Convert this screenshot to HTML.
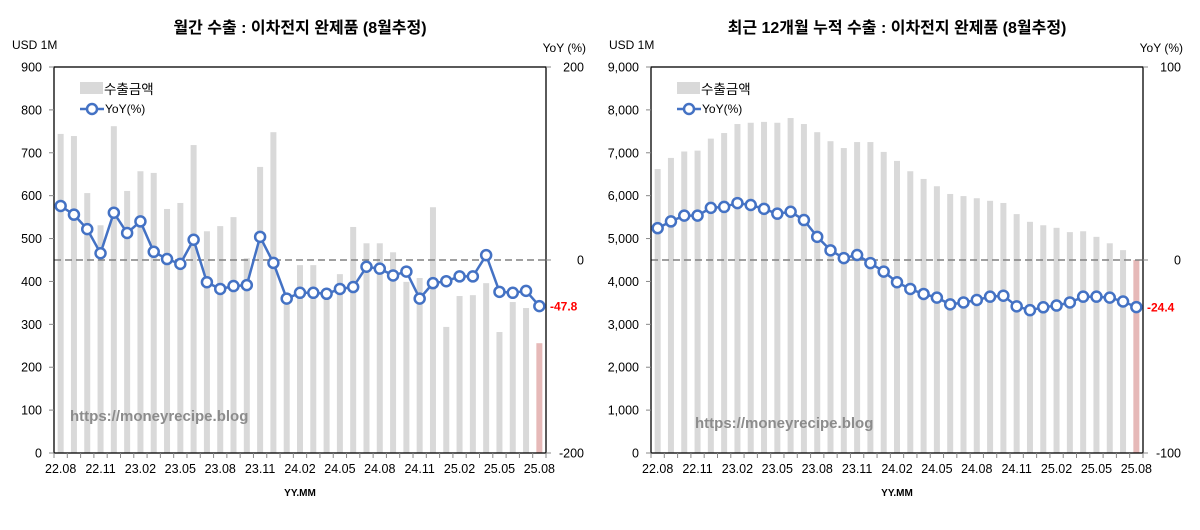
<!DOCTYPE html>
<html><head><meta charset="utf-8"><style>
body{margin:0;background:#fff;width:1200px;height:525px;overflow:hidden;font-family:"Liberation Sans","Noto Sans CJK KR",sans-serif}
svg text{font-family:"Liberation Sans","Noto Sans CJK KR",sans-serif}
</style></head><body>
<svg id="c" width="1200" height="525" xmlns="http://www.w3.org/2000/svg"></svg>
<script>
const months = ["22.08","22.09","22.10","22.11","22.12","23.01","23.02","23.03","23.04","23.05","23.06","23.07","23.08","23.09","23.10","23.11","23.12","24.01","24.02","24.03","24.04","24.05","24.06","24.07","24.08","24.09","24.10","24.11","24.12","25.01","25.02","25.03","25.04","25.05","25.06","25.07","25.08"];
const monthlyExport = [744,739,606,531,762,611,657,653,569,583,718,517,529,550,454,667,748,360,438,438,373,417,527,489,489,468,399,408,573,294,366,368,396,282,352,338,256];
const monthlyYoY = [56,47,32,7,49,28,40,8.5,1,-4,21,-23,-30,-27,-26,24,-3,-40,-34,-34,-35,-30,-28,-7,-9,-16,-12,-40,-24,-22,-17,-17,5,-33,-34,-32,-47.8];
const cumExport = [6620,6880,7030,7050,7330,7460,7670,7700,7720,7700,7810,7670,7480,7270,7110,7250,7250,7020,6810,6570,6390,6220,6040,5990,5940,5880,5830,5570,5390,5310,5250,5150,5170,5040,4890,4730,4500];
const cumYoY = [16.5,20,23,23,27,27.5,29.5,28.5,26.5,24,25,20.7,12,5,1,2.6,-1.6,-6,-11.5,-15,-17.6,-19.5,-23,-22,-20.7,-19,-18.5,-24,-26,-24.5,-23.6,-22,-19,-19,-19.5,-21.5,-24.4];
const leftTicks = [0,100,200,300,400,500,600,700,800,900];
const leftYoYTicks = [-200,0,200];
const rightTicks = [0,1000,2000,3000,4000,5000,6000,7000,8000,9000];
const rightYoYTicks = [-100,0,100];

const svg=document.getElementById('c');
const NS='http://www.w3.org/2000/svg';
function mk(tag,attrs,parent,txt){const e=document.createElementNS(NS,tag);for(const k in attrs)e.setAttribute(k,attrs[k]);if(txt!==undefined)e.textContent=txt;(parent||svg).appendChild(e);return e;}
function fmt(v){return v.toLocaleString('en-US');}

function drawChart(o){
  const g=mk('g',{});
  
  
  const L=o.x0,R=o.x1,T=67,B=453,n=o.cats.length,step=(R-L)/n;
  const y=v=>B-(v-o.ymin)/(o.ymax-o.ymin)*(B-T);
  const y2=v=>B-(v-o.y2min)/(o.y2max-o.y2min)*(B-T);
  const xc=i=>L+step*(i+0.5);
  let t=mk('text',{x:(L+R)/2,y:33,'text-anchor':'middle','font-size':'16','font-weight':'bold',fill:'#000'},g,o.title);
  
  t=mk('text',{x:L-42,y:49,'font-size':'12',fill:'#000'},g,'USD 1M');
  
  t=mk('text',{x:R+40,y:52,'text-anchor':'end','font-size':'12',fill:'#000'},g,'YoY (%)');
  
  // bars
  o.bars.forEach((v,i)=>{
    const r=mk('rect',{x:xc(i)-3,y:y(v),width:6,height:B-y(v),fill:i===n-1?'#e6b9b8':'#d9d9d9'},g);
    
    
  });
  // zero line
  const z=mk('line',{x1:L,x2:R,y1:y2(0),y2:y2(0),stroke:'#808080','stroke-width':1.5,'stroke-dasharray':'7,4'},g);
  
  // frame
  const f=mk('rect',{x:L,y:T,width:R-L,height:B-T,fill:'none',stroke:'#000','stroke-width':1.3},g);
  
  o.ticks.forEach(v=>{
    mk('line',{x1:L-5,x2:L,y1:y(v),y2:y(v),stroke:'#888'},g);
    const tt=mk('text',{x:L-12,y:y(v)+4.5,'text-anchor':'end','font-size':'12.5',fill:'#000'},g,fmt(v));
    
  });
  o.ticks2.forEach(v=>{
    mk('line',{x1:R,x2:R+5,y1:y2(v),y2:y2(v),stroke:'#888'},g);
    const tt=mk('text',{x:R+38,y:y2(v)+4.5,'text-anchor':'end','font-size':'12.5',fill:'#000'},g,String(v));
    
  });
  for(let i=0;i<=n;i++) mk('line',{x1:L+step*i,x2:L+step*i,y1:B,y2:B+5,stroke:'#888'},g);
  o.cats.forEach((c,i)=>{ if(i%3===0){
    const tt=mk('text',{x:xc(i),y:B+20,'text-anchor':'middle','font-size':'12.5',fill:'#000'},g,c);
    
  }});
  t=mk('text',{x:(L+R)/2,y:B+43,'text-anchor':'middle','font-size':'10','font-weight':'bold',fill:'#000'},g,'YY.MM');
  
  // watermark
  t=mk('text',{x:o.wmx,y:o.wmy,'font-size':'15','font-weight':'bold',fill:'#8c8c8c'},g,'https://moneyrecipe.blog');
  
  // line
  const pts=o.yoy.map((v,i)=>xc(i).toFixed(1)+','+y2(v).toFixed(1)).join(' ');
  const pl=mk('polyline',{points:pts,fill:'none',stroke:'#4472c4','stroke-width':2.5},g);
  
  o.yoy.forEach((v,i)=>{
    const c=mk('circle',{cx:xc(i),cy:y2(v),r:5,fill:'#fff',stroke:'#4472c4','stroke-width':2.5},g);
    
    
  });
  const last=o.yoy[n-1];
  t=mk('text',{x:R+4,y:y2(last)+4.5,'font-size':'12','font-weight':'bold',fill:'#ff0000'},g,String(last));
  
  // legend
  const lx=L+26;
  const lr=mk('rect',{x:lx,y:82,width:23,height:12,fill:'#d9d9d9'},g);
  
  t=mk('text',{x:lx+24,y:94,'font-size':'13.5',fill:'#000'},g,'수출금액');
  
  mk('line',{x1:lx,x2:lx+24,y1:109,y2:109,stroke:'#4472c4','stroke-width':2.5},g);
  mk('circle',{cx:lx+12,cy:109,r:5,fill:'#fff',stroke:'#4472c4','stroke-width':2.5},g);
  t=mk('text',{x:lx+25,y:113,'font-size':'12',fill:'#000'},g,'YoY(%)');
  
}
drawChart({name:'monthly-export-chart',title:'월간 수출 : 이차전지 완제품 (8월추정)',x0:54,x1:546,cats:months,bars:monthlyExport,yoy:monthlyYoY,ymin:0,ymax:900,y2min:-200,y2max:200,ticks:leftTicks,ticks2:leftYoYTicks,wmx:70,wmy:421});
drawChart({name:'cumulative-export-chart',title:'최근 12개월 누적 수출 : 이차전지 완제품 (8월추정)',x0:651,x1:1143,cats:months,bars:cumExport,yoy:cumYoY,ymin:0,ymax:9000,y2min:-100,y2max:100,ticks:rightTicks,ticks2:rightYoYTicks,wmx:695,wmy:428});
</script>
</body></html>
